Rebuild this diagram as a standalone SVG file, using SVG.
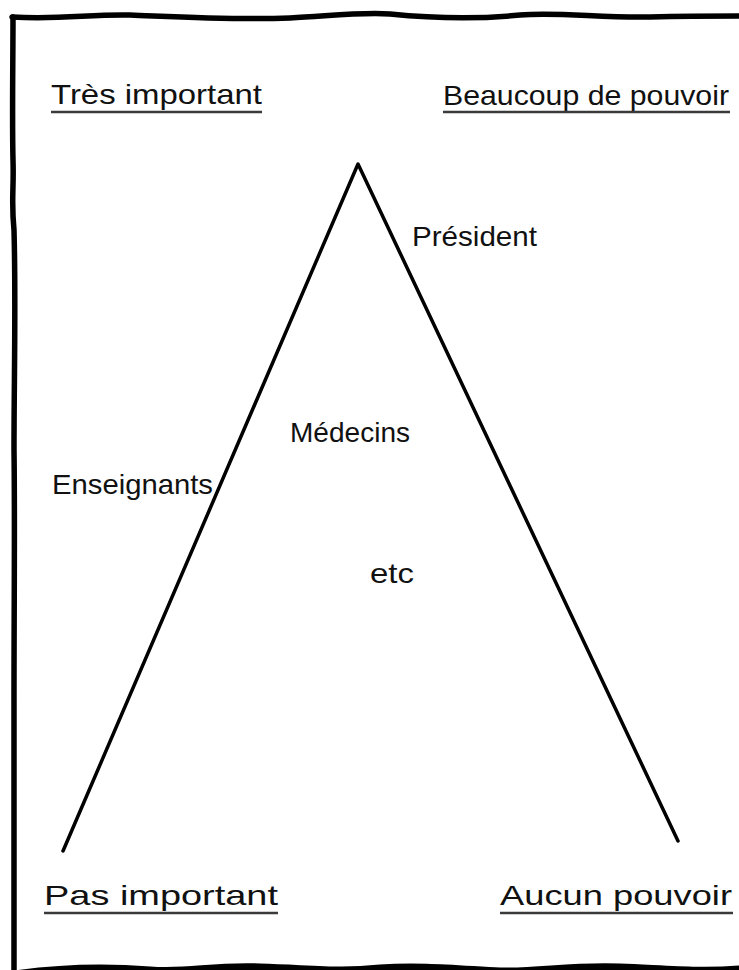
<svg xmlns="http://www.w3.org/2000/svg" width="739" height="970" viewBox="0 0 739 970">
<style>
.t{font-family:"Liberation Sans","Open Sans",sans-serif;font-size:28px;fill:#111;}
.u{stroke:#3a3a3a;stroke-width:2.5;fill:none;}
.b{stroke:#000;fill:none;stroke-linecap:round;stroke-linejoin:round;}
</style>
<rect width="739" height="970" fill="#fff"/>
<g id="frame">
<path class="b" stroke-width="5.5" d="M12,17 C60,20 90,14 130,15 C180,17 230,20 290,18 C330,16 360,12 390,14 C430,18 470,20 520,15 C560,12 600,18 650,17 C690,16 715,16 739,16"/>
<path class="b" stroke-width="5.5" d="M13,17 C13,60 12,120 13,160 C14,190 11,200 14,230 C16,300 14,380 14,450 C15,520 14,600 14,700 C14,800 14,880 14,972"/>
<path class="b" stroke-width="9" d="M15,975 C50,970 100,967 150,971 C190,974 210,966 260,968 C320,970 340,973 380,969 C420,966 460,970 500,972 C540,973 570,966 620,968 C670,970 700,973 739,970"/>
</g>
<g id="connectors">
<path class="b" stroke-width="3.5" d="M63,851 L358,164 L678,841"/>
</g>
<g id="tres-important">
<text class="t" x="51" y="104" textLength="211" lengthAdjust="spacingAndGlyphs">Très important</text>
<line class="u" x1="51" y1="112" x2="262" y2="112"/>
</g>
<g id="beaucoup-de-pouvoir">
<text class="t" x="443" y="105" textLength="286" lengthAdjust="spacingAndGlyphs">Beaucoup de pouvoir</text>
<line class="u" x1="443" y1="112" x2="730" y2="112"/>
</g>
<g id="president">
<text class="t" x="412" y="246" textLength="125" lengthAdjust="spacingAndGlyphs">Président</text>
</g>
<g id="medecins">
<text class="t" x="290" y="442" textLength="120" lengthAdjust="spacingAndGlyphs">Médecins</text>
</g>
<g id="enseignants">
<text class="t" x="52" y="494" textLength="161" lengthAdjust="spacingAndGlyphs">Enseignants</text>
</g>
<g id="etc">
<text class="t" x="370" y="583" textLength="44" lengthAdjust="spacingAndGlyphs">etc</text>
</g>
<g id="pas-important">
<text class="t" x="44" y="905" textLength="234" lengthAdjust="spacingAndGlyphs">Pas important</text>
<line class="u" x1="44" y1="913" x2="278" y2="913"/>
</g>
<g id="aucun-pouvoir">
<text class="t" x="500" y="905" textLength="232" lengthAdjust="spacingAndGlyphs">Aucun pouvoir</text>
<line class="u" x1="500" y1="913" x2="733" y2="913"/>
</g>
</svg>
